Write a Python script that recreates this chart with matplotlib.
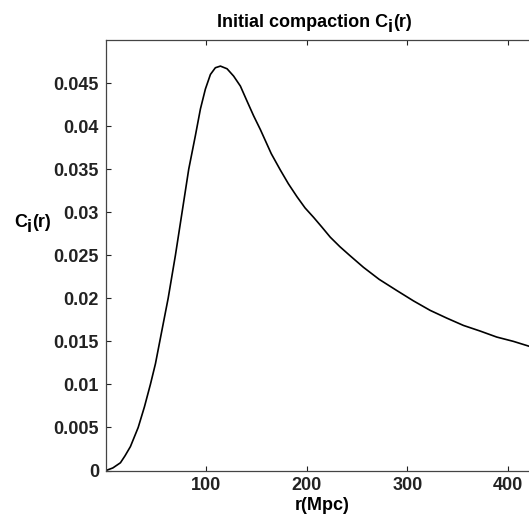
import numpy as np
import matplotlib
matplotlib.use('Agg')
import matplotlib.pyplot as plt
from matplotlib.ticker import FormatStrFormatter

plt.rcParams['font.family'] = 'Liberation Sans'
plt.rcParams['font.weight'] = 'bold'

# values
r = [1.2, 8, 15.5, 20, 25.4, 33.1, 39.3, 45.2, 50.2, 54.5, 62.8, 70, 76.6,
     83.2, 89.8, 94.8, 99.7, 104.7, 109.6, 114.6, 121.2, 127.7, 134.4, 141,
     147.5, 154.2, 165, 174, 182, 190.5, 198.5, 207, 215, 223.5, 233, 242.6,
     256.4, 272, 289.5, 306, 322.5, 339, 355.5, 372, 388.5, 405, 421.5]
C = [0.0, 0.0003, 0.0009, 0.0017, 0.00278, 0.005, 0.0074, 0.010, 0.0124,
     0.015, 0.020, 0.025, 0.030, 0.035, 0.0389, 0.0420, 0.0443, 0.0460,
     0.04678, 0.04697, 0.04666, 0.04581, 0.04465, 0.0429, 0.0412, 0.0396,
     0.0368, 0.0349, 0.0333, 0.0318, 0.0305, 0.0294, 0.0283, 0.0271, 0.0260,
     0.0250, 0.0236, 0.0222, 0.0209, 0.0197, 0.0186, 0.0177, 0.01685, 0.0162,
     0.0155, 0.0150, 0.0144]

xticks = [100, 200, 300, 400]
yticks = [0, 0.005, 0.01, 0.015, 0.02, 0.025, 0.03, 0.035, 0.04, 0.045]

fs = 13


def sub_text(fig, x, y, parts):
    """draw text pieces one after another, each (string, drop in points)"""
    prev = fig.text(x, y, parts[0][0], fontsize=fs, fontweight='bold',
                    ha='left', va='baseline')
    prev_drop = parts[0][1]
    for s, drop in parts[1:]:
        prev = fig.add_artist(matplotlib.text.Annotation(
            s, xy=(1, 0), xycoords=prev,
            xytext=(0, prev_drop - drop), textcoords='offset points',
            ha='left', va='bottom', fontsize=fs, fontweight='bold',
            annotation_clip=False))
        prev_drop = drop
    return prev


fig = plt.figure(figsize=(5.29, 5.15), dpi=100)
ax = fig.add_axes([0.2004, 0.0864, 0.8015, 0.8359])
ax.plot(r, C, color='black', lw=1.2)

ax.set_xlim(1.2, 421.5)
ax.set_ylim(0, 0.05)
ax.set_xticks(xticks)
ax.set_yticks(yticks)
ax.yaxis.set_major_formatter(FormatStrFormatter('%g'))
ax.tick_params(direction='in', length=3.5, width=0.8, labelsize=fs,
               top=True, right=False, colors='#222222', pad=5)
for s in ax.spines.values():
    s.set_color('#444444')
    s.set_linewidth(0.9)

ax.set_xlabel('r(Mpc)', fontsize=fs, fontweight='bold', va='center')
ax.xaxis.set_label_coords(0.509, -0.082)

# title and y label with a dropped "i" like the original
sub_text(fig, 217/529, (515-27)/515,
         [('Initial compaction C', 0), ('i', 3.5), ('(r)', 0)])
sub_text(fig, 14/529, (515-227)/515, [('C', 0), ('i', 3.5), ('(r)', 0)])

fig.savefig('out.png', dpi=100)
